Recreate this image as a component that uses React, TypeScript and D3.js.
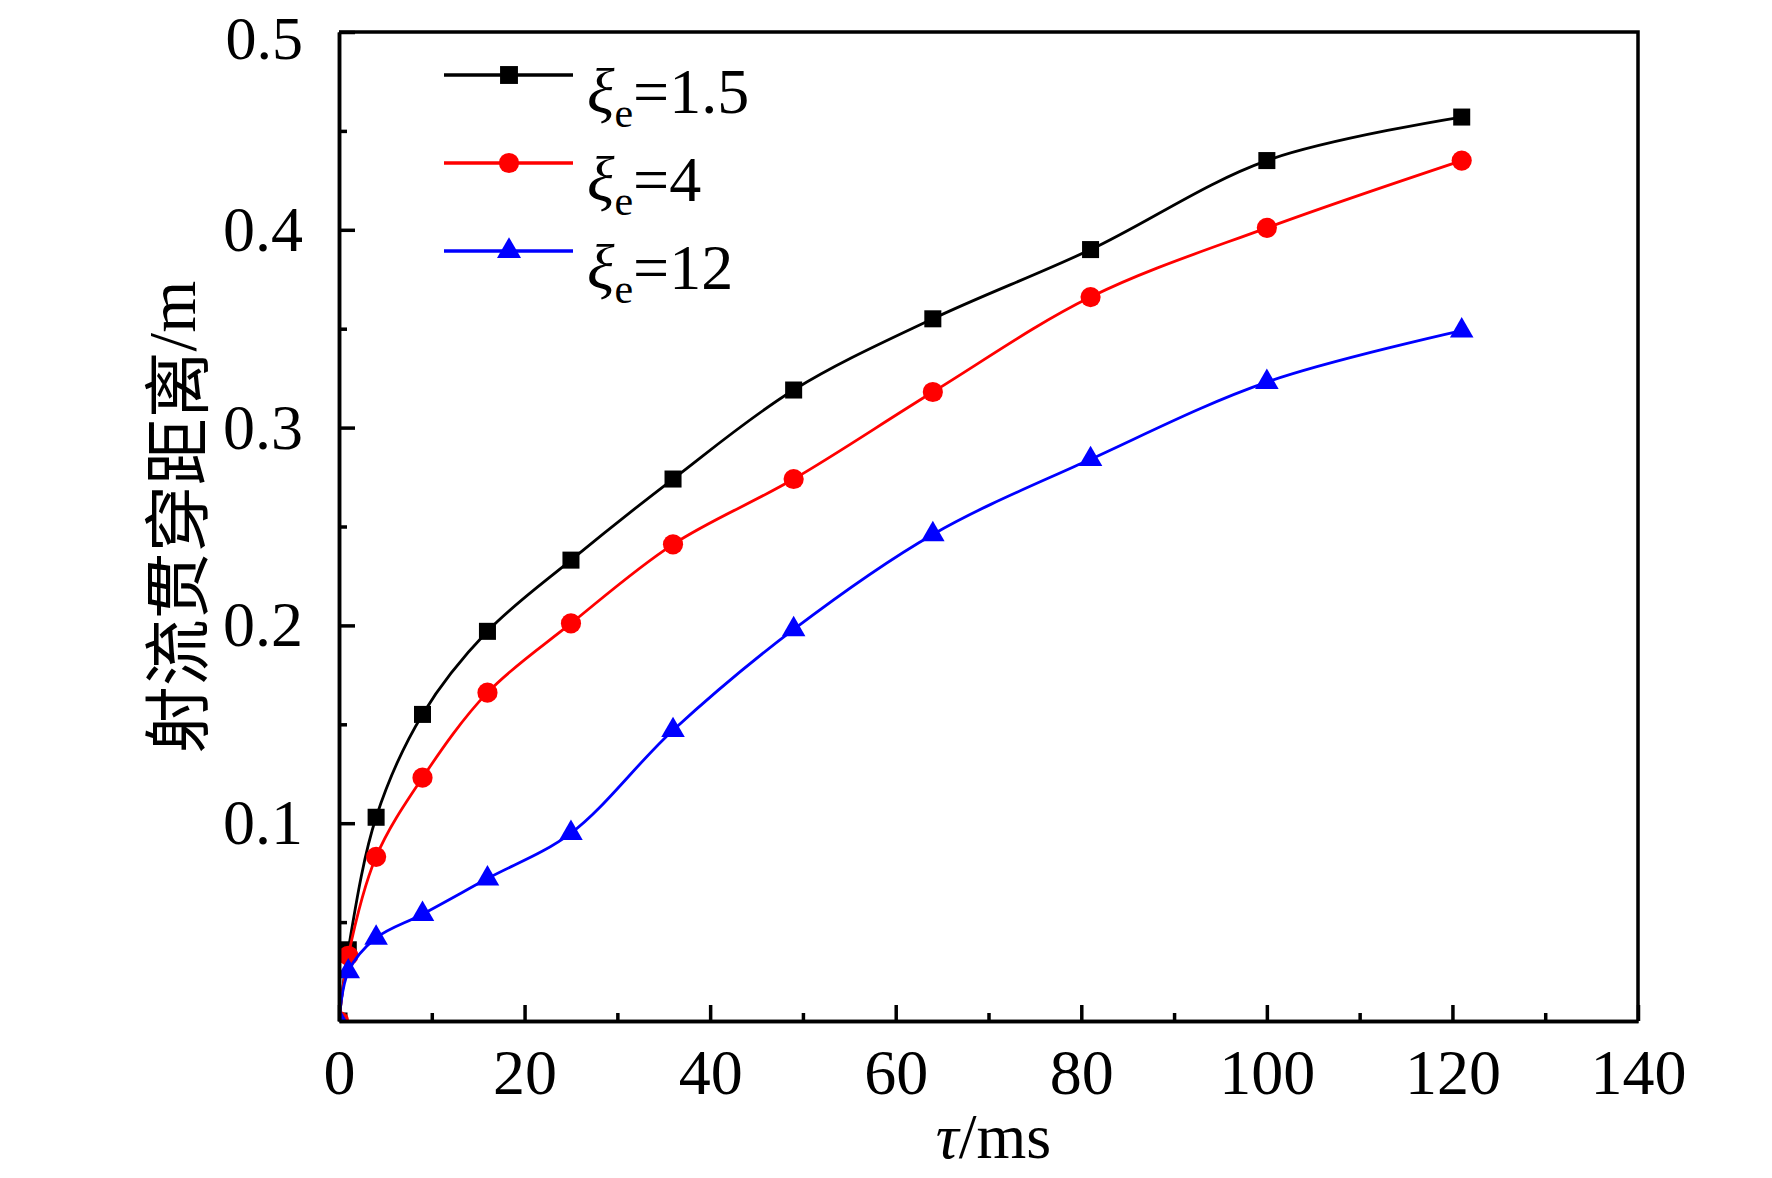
import React, { useEffect, useRef } from 'react';
import * as d3 from 'd3';

// injection time (ms) — sample points are squares of 0..11
const tau = [0, 1, 4, 9, 16, 25, 36, 49, 64, 81, 100, 121];

// jet penetration distance (m) for each excess air ratio
const xi15 = [0, 0.036, 0.103, 0.155, 0.197, 0.233, 0.274, 0.319, 0.355, 0.390, 0.435, 0.457];
const xi4 = [0, 0.033, 0.083, 0.123, 0.166, 0.201, 0.241, 0.274, 0.318, 0.366, 0.401, 0.435];
const xi12 = [0, 0.025, 0.042, 0.054, 0.072, 0.095, 0.147, 0.198, 0.246, 0.284, 0.323, 0.349];

const seriesNames = ['1.5', '4', '12'];
const xTicks = [0, 20, 40, 60, 80, 100, 120, 140];
const yTicks = [0.1, 0.2, 0.3, 0.4, 0.5];

const W = 1772;
const H = 1178;
const margin = { top: 32, right: 134, bottom: 157, left: 339 };
const serif = '"Liberation Serif", "Times New Roman", serif';

const App: React.FC = () => {
  const svgRef = useRef<SVGSVGElement>(null);

  useEffect(() => {
    const svg = d3.select(svgRef.current);
    svg.selectAll('*').remove();

    const innerW = W - margin.left - margin.right;
    const innerH = H - margin.top - margin.bottom;

    const x = d3.scaleLinear().domain([0, 140]).range([0, innerW]);
    const y = d3.scaleLinear().domain([0, 0.5]).range([innerH, 0]);

    svg.append('rect').attr('width', W).attr('height', H).attr('fill', '#fff');

    svg.append('defs')
      .append('clipPath')
      .attr('id', 'plot-clip')
      .append('rect')
      .attr('width', innerW)
      .attr('height', innerH);

    const g = svg.append('g').attr('transform', `translate(${margin.left},${margin.top})`);

    const series = [
      { name: seriesNames[0], values: xi15, color: '#000000', symbol: d3.symbolSquare, size: 290, legendSize: 320 },
      { name: seriesNames[1], values: xi4, color: '#ff0000', symbol: d3.symbolCircle, size: 320, legendSize: 320 },
      { name: seriesNames[2], values: xi12, color: '#0000ff', symbol: d3.symbolTriangle, size: 240, legendSize: 250 },
    ];

    const line = d3.line<number>()
      .x((_, i) => x(tau[i]))
      .y(d => y(d))
      .curve(d3.curveCatmullRom.alpha(0.5));

    const plot = g.append('g').attr('clip-path', 'url(#plot-clip)');

    series.forEach(s => {
      plot.append('path')
        .datum(s.values)
        .attr('d', line)
        .attr('fill', 'none')
        .attr('stroke', s.color)
        .attr('stroke-width', 2.8);

      plot.selectAll(null)
        .data(s.values)
        .enter()
        .append('path')
        .attr('d', d3.symbol().type(s.symbol).size(s.size)())
        .attr('transform', (d, i) => `translate(${x(tau[i])},${y(d)})`)
        .attr('fill', s.color);
    });

    // axes: inward ticks
    const styleAxis = (sel: d3.Selection<SVGGElement, unknown, null, undefined>) => {
      sel.select('.domain').attr('stroke', '#000').attr('stroke-width', 3.5);
      sel.selectAll('.tick line').attr('stroke', '#000').attr('stroke-width', 3.5);
      sel.selectAll('.tick text')
        .attr('fill', '#000')
        .style('font-family', serif)
        .style('font-size', '64px');
    };

    const xMinor = d3.range(10, 140, 20);
    const yMinor = d3.range(0.05, 0.5, 0.1);

    g.append('g')
      .attr('transform', `translate(0,${innerH})`)
      .call(d3.axisBottom(x).tickValues(xMinor).tickSize(-8).tickSizeOuter(0).tickFormat(() => ''))
      .call(styleAxis);
    const xAxisG = g.append('g')
      .attr('transform', `translate(0,${innerH})`)
      .call(d3.axisBottom(x).tickValues(xTicks).tickSize(-16).tickSizeOuter(0).tickPadding(28).tickFormat(d3.format('d')))
      .call(styleAxis);
    xAxisG.selectAll('.tick text').attr('dy', '0.71em');

    g.append('g')
      .call(d3.axisLeft(y).tickValues(yMinor).tickSize(-8).tickSizeOuter(0).tickFormat(() => ''))
      .call(styleAxis);
    const yAxisG = g.append('g')
      .call(d3.axisLeft(y).tickValues(yTicks).tickSize(-16).tickSizeOuter(0).tickPadding(36).tickFormat(d3.format('.1f')))
      .call(styleAxis);
    // top label sits at the very edge; nudge it so it stays inside the picture
    yAxisG.selectAll<SVGTextElement, number>('.tick text')
      .filter(d => d === 0.5)
      .style('font-size', '62px')
      .attr('dy', '0.42em');

    // top and right frame
    g.append('path')
      .attr('d', `M0,0H${innerW}V${innerH}`)
      .attr('fill', 'none')
      .attr('stroke', '#000')
      .attr('stroke-width', 3.5);

    // axis titles
    const xt = svg.append('text')
      .attr('x', margin.left + innerW / 2 + 5)
      .attr('y', 1158)
      .attr('text-anchor', 'middle')
      .style('font-family', serif)
      .style('font-size', '64px')
      .attr('fill', '#000');
    xt.append('tspan').style('font-style', 'italic').text('τ');
    xt.append('tspan').text('/ms');

    const yt = svg.append('text')
      .attr('transform', `translate(172,517) rotate(-90)`)
      .attr('text-anchor', 'middle')
      .attr('dominant-baseline', 'central')
      .style('font-size', '67px')
      .attr('fill', '#000');
    yt.append('tspan').style('font-family', '"Noto Sans CJK SC", sans-serif').text('射流贯穿距离');
    yt.append('tspan').style('font-family', serif).text('/m');

    // legend
    const legend = svg.append('g').attr('transform', 'translate(444,75)');
    series.forEach((s, i) => {
      const row = legend.append('g').attr('transform', `translate(0,${i * 88})`);
      row.append('line')
        .attr('x1', 0).attr('x2', 129)
        .attr('stroke', s.color)
        .attr('stroke-width', 3.5);
      row.append('path')
        .attr('d', d3.symbol().type(s.symbol).size(s.legendSize)())
        .attr('transform', 'translate(65,0)')
        .attr('fill', s.color);
      const t = row.append('text')
        .attr('x', 143)
        .attr('y', 38)
        .style('font-family', serif)
        .style('font-size', '64px')
        .attr('fill', '#000');
      t.append('tspan').style('font-style', 'italic').text('ξ');
      t.append('tspan').attr('dy', 14).style('font-size', '42px').text('e');
      t.append('tspan').attr('dy', -14).text(`=${s.name}`);
    });
  }, []);

  return (
    <svg
      ref={svgRef}
      width={W}
      height={H}
      style={{ position: 'absolute', left: 0, top: 0, display: 'block' }}
    />
  );
};

export default App;
